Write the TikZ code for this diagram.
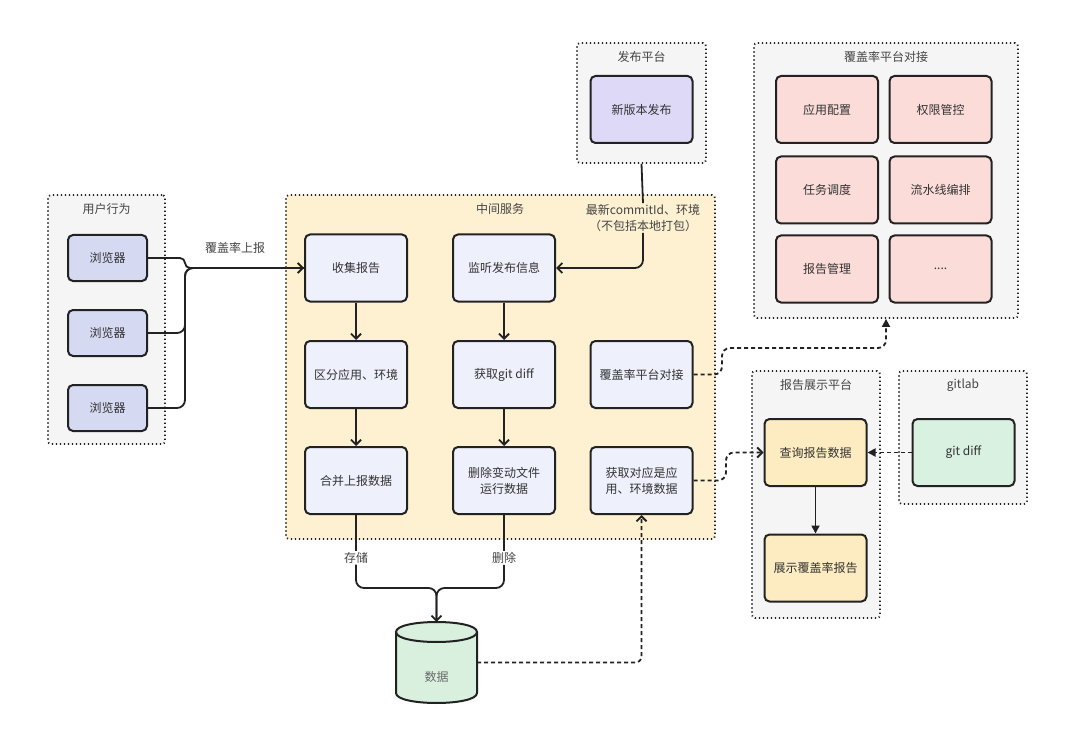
\documentclass[tikz,border=0pt]{standalone}
\usepackage{fontspec}
\setmainfont{Noto Sans CJK SC}
\usetikzlibrary{arrows.meta}
\definecolor{txt}{HTML}{333333}
\definecolor{ttl}{HTML}{444444}
\definecolor{edge}{HTML}{222222}
\definecolor{browserfill}{HTML}{D5D9F2}
\definecolor{midfill}{HTML}{EEF0FC}
\definecolor{yellowgrp}{HTML}{FDF1D2}
\definecolor{graygrp}{HTML}{F5F5F6}
\definecolor{pubfill}{HTML}{DDD9F7}
\definecolor{pinkfill}{HTML}{FBDCD8}
\definecolor{orangefill}{HTML}{FDECC2}
\definecolor{mintfill}{HTML}{D8F1E1}
\definecolor{dbfill}{HTML}{D9F0DE}
\tikzset{
  grp/.style={draw=edge, line width=1.8pt, dash pattern=on 1.2pt off 2.8pt, rounded corners=3pt},
  box/.style={draw=edge, line width=2pt, rounded corners=5pt, minimum width=102pt, minimum height=67pt, text=txt, font=\fontsize{12}{16}\selectfont, align=center, inner sep=2pt},
  smallbox/.style={box, minimum width=79pt, minimum height=46pt},
  ttlstyle/.style={text=ttl, font=\fontsize{12}{16}\selectfont, align=center},
  conn/.style={draw=edge, line width=1.8pt},
  dconn/.style={draw=edge, line width=1.8pt, dash pattern=on 4pt off 3pt},
  barb/.style={-{Straight Barb[length=5pt,width=10pt]}},
  tri/.style={-{Triangle[length=8pt,width=8pt]}},
}
\begin{document}
\begin{tikzpicture}[x=1pt,y=-1pt]
\useasboundingbox[fill=white] (0,0) rectangle (1080,741);

% ---------- groups ----------
\node[grp, fill=graygrp, minimum width=117pt, minimum height=249pt] (usergrp) at (106.5,319.5) {};
\node[ttlstyle] (usert) at (106.5,209) {用户行为};

\node[grp, fill=yellowgrp, minimum width=429pt, minimum height=344pt] (midgrp) at (500.5,367) {};
\node[ttlstyle] (midt) at (500,209) {中间服务};

\node[grp, fill=graygrp, minimum width=129pt, minimum height=120pt] (pubgrp) at (641.5,103) {};
\node[ttlstyle] (pubt) at (641.5,57) {发布平台};

\node[grp, fill=graygrp, minimum width=264pt, minimum height=275pt] (covgrp) at (886,180.5) {};
\node[ttlstyle] (covt) at (886,57) {覆盖率平台对接};

\node[grp, fill=graygrp, minimum width=128pt, minimum height=247pt] (repgrp) at (816,494.5) {};
\node[ttlstyle] (rept) at (816,385) {报告展示平台};

\node[grp, fill=graygrp, minimum width=128pt, minimum height=133pt] (gitgrp) at (963,437.5) {};
\node[ttlstyle] (gitt) at (963,385) {gitlab};

% ---------- browsers ----------
\node[smallbox, fill=browserfill] (b1) at (107.5,258) {浏览器};
\node[smallbox, fill=browserfill] (b2) at (107.5,333) {浏览器};
\node[smallbox, fill=browserfill] (b3) at (107.5,408) {浏览器};

% ---------- middle service ----------
\node[box, fill=midfill] (collect) at (356,268) {收集报告};
\node[box, fill=midfill] (listen) at (504,268) {监听发布信息};
\node[box, fill=midfill] (split) at (356,374.5) {区分应用、环境};
\node[box, fill=midfill] (gitd) at (504,374.5) {获取git diff};
\node[box, fill=midfill] (plat) at (641.5,374.5) {覆盖率平台对接};
\node[box, fill=midfill] (merge) at (356,480.5) {合并上报数据};
\node[box, fill=midfill] (delete) at (504,480.5) {删除变动文件\\运行数据};
\node[box, fill=midfill] (fetch) at (641.5,480.5) {获取对应是应\\用、环境数据};

% ---------- publish ----------
\node[box, fill=pubfill] (release) at (641.5,109.5) {新版本发布};

% ---------- coverage platform ----------
\node[box, fill=pinkfill] (c1) at (827,109.5) {应用配置};
\node[box, fill=pinkfill] (c2) at (940.5,109.5) {权限管控};
\node[box, fill=pinkfill] (c3) at (827,190) {任务调度};
\node[box, fill=pinkfill] (c4) at (940.5,190) {流水线编排};
\node[box, fill=pinkfill] (c5) at (827,269) {报告管理};
\node[box, fill=pinkfill] (c6) at (940.5,269) {....};

% ---------- report platform ----------
\node[box, fill=orangefill] (query) at (815.5,452.5) {查询报告数据};
\node[box, fill=orangefill] (show) at (815.5,568) {展示覆盖率报告};

% ---------- gitlab ----------
\node[box, fill=mintfill] (gdiff) at (963.5,452.5) {git diff};

% ---------- database ----------
\fill[dbfill] (396,632) -- (396,693) .. controls (396,706.33) and (477,706.33) .. (477,693) -- (477,632) -- cycle;
\fill[dbfill] (396,632) .. controls (396,618.67) and (477,618.67) .. (477,632) -- cycle;
\draw[edge, line width=2pt] (396,632) -- (396,693) .. controls (396,706.33) and (477,706.33) .. (477,693) -- (477,632);
\draw[edge, line width=2pt] (396,632) .. controls (396,618.67) and (477,618.67) .. (477,632) .. controls (477,645.33) and (396,645.33) .. (396,632) -- cycle;
\node[minimum width=81pt, minimum height=81pt, inner sep=0pt] (db) at (436.5,662.5) {};
\node[text=ttl!80, font=\fontsize{12}{16}\selectfont] (dbt) at (436.5,677) {数据};

% ---------- labels ----------
\node[ttlstyle] (uplbl) at (235,248) {覆盖率上报};
\node[ttlstyle, inner sep=1pt] (commitlbl) at (643,218) {最新commitId、环境\\（不包括本地打包）};
\node[ttlstyle, inner sep=1pt] (storelbl) at (356,558) {存储};
\node[ttlstyle, inner sep=1pt] (dellbl) at (504,558) {删除};
\coordinate (bus) at (185,268);
\coordinate (join) at (436.5,588);

% ---------- connectors ----------
\draw[conn, rounded corners=5pt] (b1.east) -| (bus) -- (collect.west);
\draw[conn, rounded corners=8pt] (b2.east) -| (bus) -- (collect.west);
\draw[conn, rounded corners=8pt, barb] (b3.east) -| (bus) -- (collect.west);

\draw[conn, barb] (collect.south) -- (split.north);
\draw[conn, barb] (split.south) -- (merge.north);
\draw[conn, barb] (listen.south) -- (gitd.north);
\draw[conn, barb] (gitd.south) -- (delete.north);

\draw[conn] (pubgrp.south) -- (commitlbl.north);
\draw[conn, rounded corners=8pt, barb] (commitlbl.south) |- (listen.east);

\draw[conn] (merge.south) -- (storelbl.north);
\draw[conn] (delete.south) -- (dellbl.north);
\draw[conn, rounded corners=8pt] (storelbl.south) |- (join) -- (db.north);
\draw[conn, rounded corners=8pt, barb] (dellbl.south) |- (join) -- (db.north);

\draw[dconn, rounded corners=6pt, barb] (db.east) -| (fetch.south);
\draw[dconn, rounded corners=8pt, tri] (plat.east) -- (722,374.5) -- (722,348) -| (covgrp.south);
\draw[dconn, rounded corners=8pt, barb] (fetch.east) -- (726,480.5) |- (query.west);
\draw[dconn, tri] (gdiff.west) -- (query.east);
\draw[conn, tri] (query.south) -- (show.north);
\end{tikzpicture}
\end{document}
